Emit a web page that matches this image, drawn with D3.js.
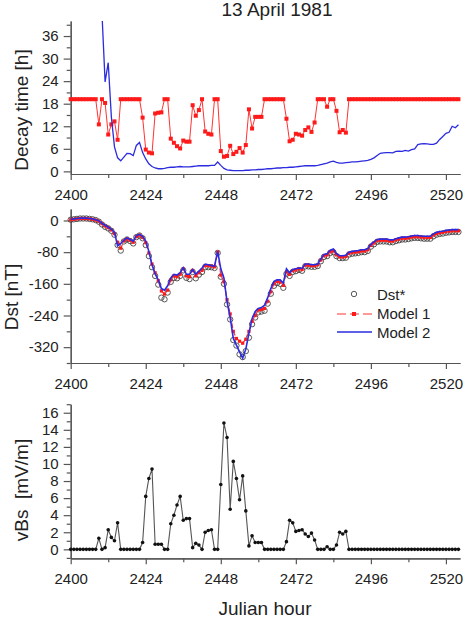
<!DOCTYPE html>
<html>
<head>
<meta charset="utf-8">
<script src="https://cdn.jsdelivr.net/npm/d3@7"></script>
<style>
  body { margin: 0; background: #fff; }
  svg { display: block; font-family: "Liberation Sans", Arial, sans-serif; }
  .tick text { font-size: 15px; fill: #222; }
  .tick line, .domain { stroke: #555; stroke-width: 1.2; }
  .title { font-size: 19px; fill: #222; }
</style>
</head>
<body>
<div id="svg-container"></div>
<script>
////////////////////////////////////////////////////////////////////
////////////////////////////  Data  ////////////////////////////////
const startHour = 2400;
const xTicksMajor = [2400, 2424, 2448, 2472, 2496, 2520];
const xTicksMinor = [2412, 2436, 2460, 2484, 2508];

// decay time [h], model 1 (red squares), one value per hour from 2400
const decayModel1 = [
  19.2, 19.2, 19.2, 19.2, 19.2, 19.2, 19.2, 19.2, 19.2, 12.5,
  19.2, 18.2, 9.8, 12.5, 13.3, 8.4, 19.2, 19.2, 19.2, 19.2,
  19.2, 19.2, 19.2, 14.3, 5.8, 5.0, 4.8, 15.4, 15.6, 15.7,
  19.2, 19.2, 8.7, 7.6, 6.7, 6.1, 8.2, 7.9, 7.9, 17.6,
  14.8, 16.3, 19.2, 10.6, 10.0, 9.8, 19.2, 19.2, 5.4, 3.9,
  4.1, 6.8, 4.6, 5.2, 6.2, 5.0, 7.0, 16.5, 11.4, 14.5,
  14.5, 14.5, 19.2, 19.2, 19.2, 19.2, 19.2, 19.2, 19.2, 14.0,
  8.0, 8.4, 10.0, 9.8, 9.5, 11.0, 11.7, 10.5, 13.0, 19.2,
  19.2, 19.2, 17.2, 19.2, 19.2, 16.1, 10.4, 11.0, 10.3, 19.2,
  19.2, 19.2, 19.2, 19.2, 19.2, 19.2, 19.2, 19.2, 19.2, 19.2,
  19.2, 19.2, 19.2, 19.2, 19.2, 19.2, 19.2, 19.2, 19.2, 19.2,
  19.2, 19.2, 19.2, 19.2, 19.2, 19.2, 19.2, 19.2, 19.2, 19.2,
  19.2, 19.2, 19.2, 19.2, 19.2
];

// decay time [h], model 2 (blue line)
const decayModel2 = [
  null, null, null, null, null, null, null, null, null, null,
  42, 23.8, 28.9, 14.5, 6.5, 3.6, 2.8, 3.8, 4.8, 4.7,
  4.2, 6.9, 7.7, 5.0, 3.3, 2.0, 1.3, 0.9, 0.7, 0.7,
  0.8, 1.0, 1.1, 1.1, 1.2, 1.3, 1.2, 1.2, 1.2, 1.3,
  1.4, 1.5, 1.5, 1.5, 1.5, 1.6, 1.6, 2.5, 1.6, 0.8,
  0.4, 0.3, 0.2, 0.2, 0.2, 0.2, 0.3, 0.3, 0.4, 0.4,
  0.5, 0.5, 0.6, 0.7, 0.7, 0.8, 0.9, 0.9, 1.0, 1.0,
  1.1, 1.1, 1.2, 1.3, 1.4, 1.5, 1.5, 1.5, 1.5, 1.6,
  1.8, 2.0, 2.2, 2.5, 2.7, 2.4, 2.2, 2.2, 2.3, 2.4,
  2.5, 2.5, 2.6, 2.7, 2.8, 2.9, 3.2, 3.6, 4.2, 4.8,
  4.9, 5.0, 5.0, 4.9, 5.3, 5.4, 5.3, 5.6, 5.4, 5.8,
  6.0, 7.1, 7.3, 7.4, 7.3, 7.2, 7.2, 7.5, 8.5, 9.3,
  10.1, 10.4, 12.0, 11.6, 12.4
];

// Dst [nT]
const dstObs = [
  2, 3, 4, 5, 5, 5, 4, 3, 1, -3,
  -10, -16, -20, -26, -36, -62, -76, -53, -48, -52,
  -58, -42, -38, -45, -62, -90, -118, -140, -162, -195,
  -199, -182, -155, -145, -146, -140, -126, -145, -148, -130,
  -146, -137, -130, -118, -118, -118, -120, -82, -142, -160,
  -212, -250, -302, -316, -338, -345, -330, -296, -262, -245,
  -232, -230, -228, -210, -185, -165, -158, -160, -170, -135,
  -140, -130, -128, -125, -127, -116, -116, -117, -117, -115,
  -103, -92, -90, -82, -80, -90, -95, -95, -94, -86,
  -84, -83, -82, -80, -80, -77, -66, -60, -54, -53,
  -53, -53, -55, -55, -52, -50, -48, -48, -47, -45,
  -44, -44, -45, -46, -46, -46, -40, -36, -34, -33,
  -31, -30, -29, -29, -29
];

const dstModel1 = [
  2, 3, 4, 5, 5, 5, 4, 3, 1, -2,
  -8, -14, -18, -24, -33, -55, -70, -52, -47, -50,
  -55, -41, -37, -43, -56, -82, -110, -132, -152, -178,
  -186, -176, -150, -140, -142, -136, -122, -140, -142, -126,
  -140, -132, -126, -114, -114, -115, -117, -80, -138, -155,
  -200, -236, -280, -298, -305, -310, -300, -280, -255, -240,
  -226, -225, -222, -204, -180, -160, -154, -156, -164, -130,
  -136, -127, -125, -122, -124, -113, -113, -114, -114, -112,
  -100, -89, -87, -79, -77, -87, -92, -92, -91, -83,
  -81, -80, -79, -77, -77, -74, -63, -57, -51, -50,
  -50, -50, -52, -52, -49, -47, -45, -45, -44, -42,
  -41, -41, -42, -43, -43, -43, -37, -33, -31, -30,
  -28, -27, -26, -26, -26
];

const dstModel2 = [
  3, 4, 5, 6, 6, 6, 5, 4, 2, -1,
  -7, -12, -17, -22, -30, -64, -58, -50, -44, -48,
  -52, -38, -35, -40, -52, -78, -112, -135, -150, -172,
  -176, -165, -145, -136, -138, -132, -119, -136, -136, -124,
  -136, -128, -120, -110, -112, -114, -115, -78, -122, -145,
  -205, -245, -298, -315, -332, -348, -325, -285, -248, -230,
  -222, -220, -214, -195, -172, -154, -150, -150, -158, -122,
  -132, -124, -122, -120, -121, -110, -110, -112, -112, -110,
  -97, -86, -84, -75, -72, -84, -89, -89, -88, -80,
  -78, -77, -76, -74, -74, -71, -60, -54, -48, -47,
  -47, -47, -49, -49, -46, -44, -42, -42, -41, -39,
  -38, -38, -39, -40, -40, -40, -34, -30, -28, -27,
  -25, -24, -23, -23, -23
];

// vBs [mV/m]
const vBs = [
  0, 0, 0, 0, 0, 0, 0, 0, 0, 1.3,
  0, 0.2, 2.3, 1.4, 1.0, 3.1, 0, 0, 0, 0,
  0, 0, 0, 0.8, 6.2, 8.3, 9.4, 0.6, 0.6, 0.6,
  0, 0, 3.0, 4.0, 5.2, 6.2, 3.4, 3.6, 3.6, 0.2,
  0.7, 0.5, 0, 2.0, 2.2, 2.3, 0, 0, 7.6, 14.8,
  13.1, 4.7, 10.3, 8.3, 5.8, 8.6, 4.5, 0.4, 1.6, 0.8,
  0.8, 0.8, 0, 0, 0, 0, 0, 0, 0, 0.9,
  3.4, 3.1, 2.1, 2.2, 2.3, 1.8, 1.5, 1.9, 1.1, 0,
  0, 0, 0.3, 0, 0, 0.5, 2.0, 1.8, 2.1, 0,
  0, 0, 0, 0, 0, 0, 0, 0, 0, 0,
  0, 0, 0, 0, 0, 0, 0, 0, 0, 0,
  0, 0, 0, 0, 0, 0, 0, 0, 0, 0,
  0, 0, 0, 0, 0
];

const decayTicks = [0, 6, 12, 18, 24, 30, 36];
const decayMinor = [3, 9, 15, 21, 27, 33, 39];
const dstTicks = [0, -80, -160, -240, -320];
const dstMinor = [-40, -120, -200, -280, -360];
const vbsTicks = [0, 2, 4, 6, 8, 10, 12, 14, 16];
const vbsMinor = [-1, 1, 3, 5, 7, 9, 11, 13, 15, 17];

const legendLabels = ["Dst*", "Model 1", "Model 2"];

////////////////////////////////////////////////////////////////////
////////////////////////////  Init  ////////////////////////////////
const width = 471;
const height = 625;
const svg = d3.select("#svg-container").append("svg")
  .attr("width", width).attr("height", height);

const hour = (i) => startHour + i;

// scale
const x = d3.scaleLinear().domain([2400, 2524.5]).range([70.7, 460]);
const yDecay = d3.scaleLinear().domain([-0.7, 40]).range([174, 21]);
const yDst = d3.scaleLinear().domain([-360, 29]).range([363, 209]);
const yVbs = d3.scaleLinear().domain([-1.05, 17]).range([558.3, 404.2]);

// plain hyphen for negative labels, like the original
const plain = (d) => String(d);

// axes
const drawAxes = (yScale, major, minor) => {
  const y0 = yScale.range()[0];
  const gx = svg.append("g").attr("transform", `translate(0,${y0})`);
  gx.call(d3.axisBottom(x).tickValues(xTicksMajor).tickSize(6)
    .tickSizeOuter(0).tickPadding(9).tickFormat(plain));
  gx.append("g").call(d3.axisBottom(x).tickValues(xTicksMinor).tickSize(4)
    .tickSizeOuter(0).tickFormat(""));

  const gy = svg.append("g").attr("transform", `translate(${x.range()[0]},0)`);
  gy.call(d3.axisLeft(yScale).tickValues(major).tickSize(7)
    .tickSizeOuter(0).tickPadding(5).tickFormat(plain));
  gy.append("g").call(d3.axisLeft(yScale).tickValues(minor).tickSize(4)
    .tickSizeOuter(0).tickFormat(""));
};

drawAxes(yDecay, decayTicks, decayMinor);
drawAxes(yDst, dstTicks, dstMinor);
drawAxes(yVbs, vbsTicks, vbsMinor);
svg.selectAll(".tick text")
  .attr("fill", "#222")
  .style("font-family", "'Liberation Sans', Arial, sans-serif");

////////////////////////////////////////////////////////////////////
////////////////////////////  Top panel  ///////////////////////////
svg.append("clipPath").attr("id", "clip-top")
  .append("rect").attr("x", 70).attr("y", 21).attr("width", 400).attr("height", 155);

const decayLine = d3.line()
  .defined((d) => d != null)
  .x((d, i) => x(hour(i)))
  .y((d) => yDecay(d));

svg.append("path")
  .datum(decayModel1)
  .attr("d", decayLine)
  .attr("fill", "none")
  .attr("stroke", "#ff3333")
  .attr("stroke-width", 1);

svg.append("g")
  .selectAll("rect")
  .data(decayModel1)
  .enter()
  .append("rect")
  .attr("x", (d, i) => x(hour(i)) - 2)
  .attr("y", (d) => yDecay(d) - 2)
  .attr("width", 4)
  .attr("height", 4)
  .attr("fill", "#ff1a1a");

svg.append("path")
  .datum(decayModel2)
  .attr("clip-path", "url(#clip-top)")
  .attr("d", decayLine)
  .attr("fill", "none")
  .attr("stroke", "#2b2bdf")
  .attr("stroke-width", 1.3);

////////////////////////////////////////////////////////////////////
////////////////////////////  Middle panel  ////////////////////////
const dstLine = d3.line()
  .x((d, i) => x(hour(i)))
  .y((d) => yDst(d));

svg.append("g")
  .selectAll("circle")
  .data(dstObs)
  .enter()
  .append("circle")
  .attr("cx", (d, i) => x(hour(i)))
  .attr("cy", (d) => yDst(d))
  .attr("r", 2.7)
  .attr("fill", "none")
  .attr("stroke", "#444")
  .attr("stroke-width", 0.9);

svg.append("path")
  .datum(dstModel1)
  .attr("d", dstLine)
  .attr("fill", "none")
  .attr("stroke", "#ff3333")
  .attr("stroke-width", 1.2)
  .attr("stroke-dasharray", "5,3");

svg.append("g")
  .selectAll("rect")
  .data(dstModel1)
  .enter()
  .append("rect")
  .attr("x", (d, i) => x(hour(i)) - 1.6)
  .attr("y", (d) => yDst(d) - 1.6)
  .attr("width", 3.2)
  .attr("height", 3.2)
  .attr("fill", "#ff1a1a");

svg.append("path")
  .datum(dstModel2)
  .attr("d", dstLine)
  .attr("fill", "none")
  .attr("stroke", "#2b2bdf")
  .attr("stroke-width", 1.6);

// legend
const legend = svg.append("g").style("font-size", "15px").attr("fill", "#222");
legend.append("circle").attr("cx", 354).attr("cy", 294).attr("r", 2.7)
  .attr("fill", "none").attr("stroke", "#444").attr("stroke-width", 0.9);
legend.append("line").attr("x1", 337).attr("x2", 372).attr("y1", 314).attr("y2", 314)
  .attr("stroke", "#ff3333").attr("stroke-width", 1.2).attr("stroke-dasharray", "9,4");
legend.append("rect").attr("x", 352).attr("y", 312).attr("width", 4).attr("height", 4)
  .attr("fill", "#ff1a1a");
legend.append("line").attr("x1", 337).attr("x2", 372).attr("y1", 332).attr("y2", 332)
  .attr("stroke", "#2b2bdf").attr("stroke-width", 1.6);
legend.selectAll("text")
  .data(legendLabels)
  .enter()
  .append("text")
  .attr("x", 377)
  .attr("y", (d, i) => 300 + i * 19)
  .text((d) => d);

////////////////////////////////////////////////////////////////////
////////////////////////////  Bottom panel  ////////////////////////
const vbsLine = d3.line()
  .x((d, i) => x(hour(i)))
  .y((d) => yVbs(d));

svg.append("path")
  .datum(vBs)
  .attr("d", vbsLine)
  .attr("fill", "none")
  .attr("stroke", "#555")
  .attr("stroke-width", 1.1);

svg.append("g")
  .selectAll("circle")
  .data(vBs)
  .enter()
  .append("circle")
  .attr("cx", (d, i) => x(hour(i)))
  .attr("cy", (d) => yVbs(d))
  .attr("r", 1.8)
  .attr("fill", "#111");

////////////////////////////////////////////////////////////////////
////////////////////////////  Titles  //////////////////////////////
svg.append("text").attr("class", "title")
  .attr("x", 277).attr("y", 16).attr("text-anchor", "middle")
  .text("13 April 1981");

const yTitle = (label, xPos, yPos) =>
  svg.append("text").attr("class", "title")
    .attr("text-anchor", "middle")
    .attr("transform", `translate(${xPos},${yPos}) rotate(-90)`)
    .style("white-space", "pre")
    .text(label);

yTitle("Decay time [h]", 28, 110);
yTitle("Dst [nT]", 18, 297);
yTitle("vBs  [mV/m]", 28, 490);

svg.append("text").attr("class", "title")
  .attr("x", 265).attr("y", 615).attr("text-anchor", "middle")
  .text("Julian hour");
</script>
</body>
</html>
